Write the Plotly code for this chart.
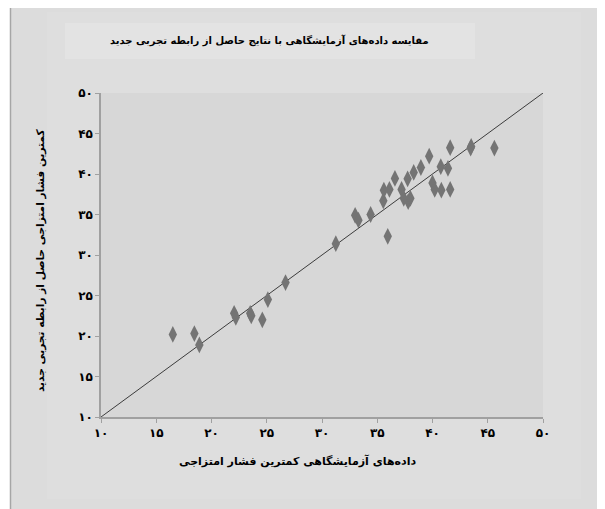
import plotly.graph_objects as go

# Data
lab_values = [16.5, 18.45, 18.9, 22.05, 22.2, 23.5, 23.6, 24.6, 25.1, 26.7,
              31.25, 33.0, 33.3, 34.4, 35.55, 35.6, 36.1, 35.95, 36.6, 37.2,
              37.4, 37.8, 38.0, 37.75, 38.3, 38.95, 39.7, 40.0, 40.2, 40.8,
              40.75, 41.4, 41.6, 41.6, 43.45, 43.5, 45.6]
new_corr_values = [20.2, 20.3, 18.9, 22.8, 22.3, 22.8, 22.5, 22.0, 24.5, 26.6,
                   31.4, 34.9, 34.3, 35.0, 36.7, 38.0, 38.1, 32.3, 39.45, 38.1,
                   37.0, 36.6, 37.0, 39.4, 40.2, 40.8, 42.2, 38.9, 38.1, 38.0,
                   40.9, 40.7, 43.25, 38.1, 43.2, 43.4, 43.2]
line_x = [10, 50]
line_y = [10, 50]
tick_vals = [10, 15, 20, 25, 30, 35, 40, 45, 50]
tick_text = ["۱۰", "۱۵", "۲۰", "۲۵", "۳۰", "۳۵", "۴۰", "۴۵", "۵۰"]

title_text = "مقایسه داده‌های آزمایشگاهی با نتایج حاصل از رابطه تجربی جدید"
x_title = "داده‌های آزمایشگاهی کمترین فشار امتزاجی"
y_title = "کمترین فشار امتزاجی حاصل از رابطه تجربی جدید"

OFF = 8  # page body offset
W, H = 597, 501
# plot area in screen px: x 101..543, y 93..417
L, T = 101 - OFF, 93 - OFF
R, B = W - (543 - OFF), H - (417 - OFF)
pw, ph = W - L - R, H - T - B

def px(x):  # screen x -> paper
    return (x - OFF - L) / pw

def py(y):  # screen y -> paper
    return (H - B - (y - OFF)) / ph

FONT = "DejaVu Sans"

fig = go.Figure()
fig.add_trace(go.Scatter(x=line_x, y=line_y, mode="lines",
                         line=dict(color="#3c3c3c", width=1), hoverinfo="skip",
                         showlegend=False))
fig.add_trace(go.Scatter(x=lab_values, y=new_corr_values, mode="markers",
                         marker=dict(symbol="diamond-tall", size=12, color="#747474",
                                     line=dict(width=0)),
                         showlegend=False))

shapes = [
    dict(type="rect", xref="paper", yref="paper", x0=px(10.5), x1=px(600.5),
         y0=py(520), y1=py(5), fillcolor="#dcdcdc",
         line=dict(color="#a6a6a6", width=1.5), layer="below"),
    dict(type="rect", xref="paper", yref="paper", x0=px(47), x1=px(581),
         y0=py(499), y1=py(12), fillcolor="#dedede", line=dict(width=0), layer="below"),
    dict(type="rect", xref="paper", yref="paper", x0=px(65), x1=px(475),
         y0=py(59), y1=py(23), fillcolor="#e3e3e3", line=dict(width=0), layer="below"),
    # plot area
    dict(type="rect", xref="paper", yref="paper", x0=0, x1=1, y0=0, y1=1,
         fillcolor="#d7d7d7", line=dict(width=0), layer="below"),
]

annotations = [
    dict(text="<b>" + title_text + "</b>", xref="paper", yref="paper",
         x=px(269), y=py(41), showarrow=False, xanchor="center", yanchor="middle",
         font=dict(family=FONT, size=10, color="#000000")),
    dict(text="<b>" + x_title + "</b>", xref="paper", yref="paper",
         x=px(297), y=py(461), showarrow=False, xanchor="center", yanchor="middle",
         font=dict(family=FONT, size=11, color="#000000")),
    dict(text="<b>" + y_title + "</b>", xref="paper", yref="paper",
         x=px(40), y=py(261), showarrow=False, xanchor="center", yanchor="middle",
         textangle=-90, font=dict(family=FONT, size=10.6, color="#000000")),
]

bold_ticks = ["<b>" + t + "</b>" for t in tick_text]

fig.update_layout(
    width=W, height=H,
    margin=dict(l=L, r=R, t=T, b=B, pad=0),
    paper_bgcolor="#ffffff",
    plot_bgcolor="#d7d7d7",
    shapes=shapes,
    annotations=annotations,
    xaxis=dict(range=[10, 50], tickvals=tick_vals, ticktext=bold_ticks,
               showgrid=False, zeroline=False, showline=True, linecolor="#a0a0a0",
               linewidth=1.5, ticks="outside", ticklen=4, tickcolor="#a0a0a0",
               tickfont=dict(family=FONT, size=12, color="#000000"), fixedrange=True),
    yaxis=dict(range=[10, 50], tickvals=tick_vals, ticktext=bold_ticks,
               showgrid=False, zeroline=False, showline=True, linecolor="#a0a0a0",
               linewidth=1.5, ticks="outside", ticklen=4, tickcolor="#a0a0a0",
               tickfont=dict(family=FONT, size=12, color="#000000"), fixedrange=True),
)

fig.write_html("out.html")
